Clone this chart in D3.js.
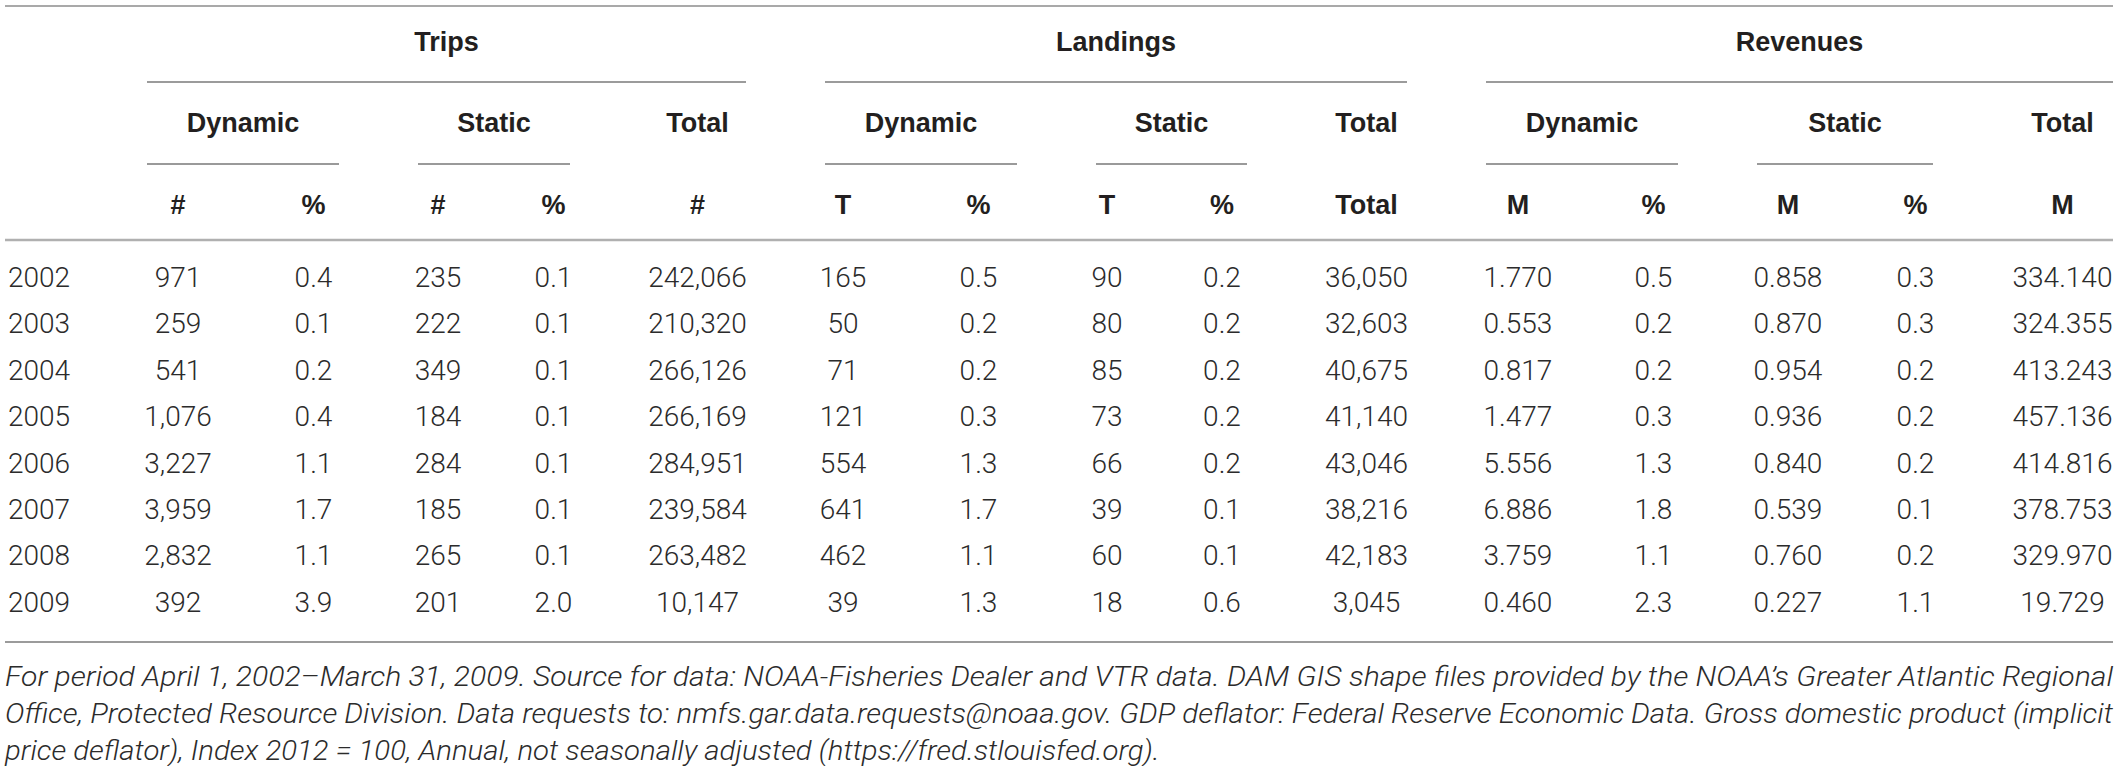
<!DOCTYPE html>
<html>
<head>
<meta charset="utf-8">
<script src="https://cdn.jsdelivr.net/npm/d3@7"></script>
<style>
  body { margin: 0; background: #fff; }
  svg text { font-family: "Liberation Sans", Arial, sans-serif; }
  .hd { font-weight: bold; fill: #231f20; font-size: 27px; }
  .cell { font-family: Roboto, "Liberation Sans", sans-serif; font-weight: 300; fill: #2b2b2b; font-size: 28px; }
  .note { font-family: Roboto, "Liberation Sans", sans-serif; font-weight: 300; font-style: italic; fill: #2b2b2b; font-size: 28px; }
  .probe { font-family: "Liberation Sans", Arial, sans-serif; font-style: italic; font-size: 28px; }
</style>
</head>
<body>
<svg width="2119" height="766"></svg>
<script>
// table values
var years = ["2002", "2003", "2004", "2005", "2006", "2007", "2008", "2009"];
var tripsDynN = [971, 259, 541, 1076, 3227, 3959, 2832, 392];
var tripsDynPct = [0.4, 0.1, 0.2, 0.4, 1.1, 1.7, 1.1, 3.9];
var tripsStaN = [235, 222, 349, 184, 284, 185, 265, 201];
var tripsStaPct = [0.1, 0.1, 0.1, 0.1, 0.1, 0.1, 0.1, 2.0];
var tripsTotal = [242066, 210320, 266126, 266169, 284951, 239584, 263482, 10147];
var landDynT = [165, 50, 71, 121, 554, 641, 462, 39];
var landDynPct = [0.5, 0.2, 0.2, 0.3, 1.3, 1.7, 1.1, 1.3];
var landStaT = [90, 80, 85, 73, 66, 39, 60, 18];
var landStaPct = [0.2, 0.2, 0.2, 0.2, 0.2, 0.1, 0.1, 0.6];
var landTotal = [36050, 32603, 40675, 41140, 43046, 38216, 42183, 3045];
var revDynM = [1.770, 0.553, 0.817, 1.477, 5.556, 6.886, 3.759, 0.460];
var revDynPct = [0.5, 0.2, 0.2, 0.3, 1.3, 1.8, 1.1, 2.3];
var revStaM = [0.858, 0.870, 0.954, 0.936, 0.840, 0.539, 0.760, 0.227];
var revStaPct = [0.3, 0.3, 0.2, 0.2, 0.2, 0.1, 0.2, 1.1];
var revTotal = [334.140, 324.355, 413.243, 457.136, 414.816, 378.753, 329.970, 19.729];

var groups = ["Trips", "Landings", "Revenues"];
var subgroups = ["Dynamic", "Static", "Total"];
var units = [["#", "%", "#", "%", "#"], ["T", "%", "T", "%", "Total"], ["M", "%", "M", "%", "M"]];
var notes = [
  "For period April 1, 2002\u2013March 31, 2009. Source for data: NOAA-Fisheries Dealer and VTR data. DAM GIS shape files provided by the NOAA\u2019s Greater Atlantic Regional",
  "Office, Protected Resource Division. Data requests to: nmfs.gar.data.requests@noaa.gov. GDP deflator: Federal Reserve Economic Data. Gross domestic product (implicit",
  "price deflator), Index 2012 = 100, Annual, not seasonally adjusted (https://fred.stlouisfed.org)."
];

var fmtN = d3.format(","), fmtP = d3.format(".1f"), fmtM = d3.format(".3f");
var columns = [
  [tripsDynN, fmtN], [tripsDynPct, fmtP], [tripsStaN, fmtN], [tripsStaPct, fmtP], [tripsTotal, fmtN],
  [landDynT, fmtN], [landDynPct, fmtP], [landStaT, fmtN], [landStaPct, fmtP], [landTotal, fmtN],
  [revDynM, fmtM], [revDynPct, fmtP], [revStaM, fmtM], [revStaPct, fmtP], [revTotal, fmtM]
];

var svg = d3.select("svg");
var left = 5, right = 2113, pad = 39.5;

// cell boundaries of the 15 value columns
var edges = [107.5, 248.5, 378.5, 497.5, 609.5, 785.5, 900.5, 1056.5, 1157.5, 1286.5, 1446.5, 1589.5, 1717.5, 1858.5, 1972.5, 2152.5];
var colIdx = d3.range(columns.length);
var x0 = d3.scaleOrdinal(colIdx, edges.slice(0, -1));
var x1 = d3.scaleOrdinal(colIdx, edges.slice(1));
function xc(i) { return (x0(i) + x1(i)) / 2; }
var y = d3.scalePoint().domain(years).range([277, 602]);

function hline(yy, a, b, color, w) {
  svg.append("line").attr("x1", a).attr("x2", b).attr("y1", yy).attr("y2", yy)
    .attr("stroke", color).attr("stroke-width", w);
}

hline(6, left, right, "#8c8c8c", 1.5);
hline(240, left, right, "#b0b0b0", 2.5);
hline(642, left, right, "#7a7a7a", 1.5);

// group headers (5 columns each)
groups.forEach(function (gname, g) {
  var a = g * 5, b = g * 5 + 4;
  var ux0 = x0(a) + pad, ux1 = Math.min(x1(b) - pad, right);
  svg.append("text").attr("class", "hd").attr("x", (ux0 + ux1) / 2).attr("y", 42)
    .attr("dy", "0.35em").attr("text-anchor", "middle").text(gname);
  hline(82, ux0, ux1, "#7a7a7a", 1.5);

  subgroups.forEach(function (s, k) {
    var c0 = a + k * 2, c1 = k < 2 ? c0 + 1 : c0;
    var sx0 = x0(c0) + pad, sx1 = Math.min(x1(c1) - pad, right);
    svg.append("text").attr("class", "hd").attr("x", k < 2 ? (sx0 + sx1) / 2 : xc(c0)).attr("y", 123)
      .attr("dy", "0.35em").attr("text-anchor", "middle").text(s);
    if (k < 2) hline(164, sx0, sx1, "#9a9a9a", 2);
  });

  units[g].forEach(function (u, k) {
    svg.append("text").attr("class", "hd").attr("x", xc(a + k)).attr("y", 205)
      .attr("dy", "0.35em").attr("text-anchor", "middle").text(u);
  });
});

// year column
svg.selectAll(".yr").data(years).enter().append("text")
  .attr("class", "cell").attr("x", 8).attr("y", function (d) { return y(d); })
  .attr("dy", "0.35em").text(function (d) { return d; });

// value cells
columns.forEach(function (col, i) {
  svg.selectAll(".c" + i).data(col[0]).enter().append("text")
    .attr("class", "cell c" + i)
    .attr("x", xc(i))
    .attr("y", function (d, r) { return y(years[r]); })
    .attr("dy", "0.35em").attr("text-anchor", "middle")
    .text(function (d) { return col[1](d); });
});

// footnote: widths follow Helvetica-like metrics
var probe = svg.append("text").attr("class", "probe").attr("opacity", 0);
svg.selectAll(".note").data(notes).enter().append("text")
  .attr("class", "note").attr("x", left)
  .attr("y", function (d, i) { return 676 + i * 37; })
  .attr("dy", "0.35em")
  .text(function (d) { return d; })
  .each(function (d, i) {
    probe.text(d);
    var w = i < 2 ? right - left : probe.node().getComputedTextLength();
    d3.select(this).attr("textLength", w).attr("lengthAdjust", "spacingAndGlyphs");
  });
probe.remove();
</script>
</body>
</html>
